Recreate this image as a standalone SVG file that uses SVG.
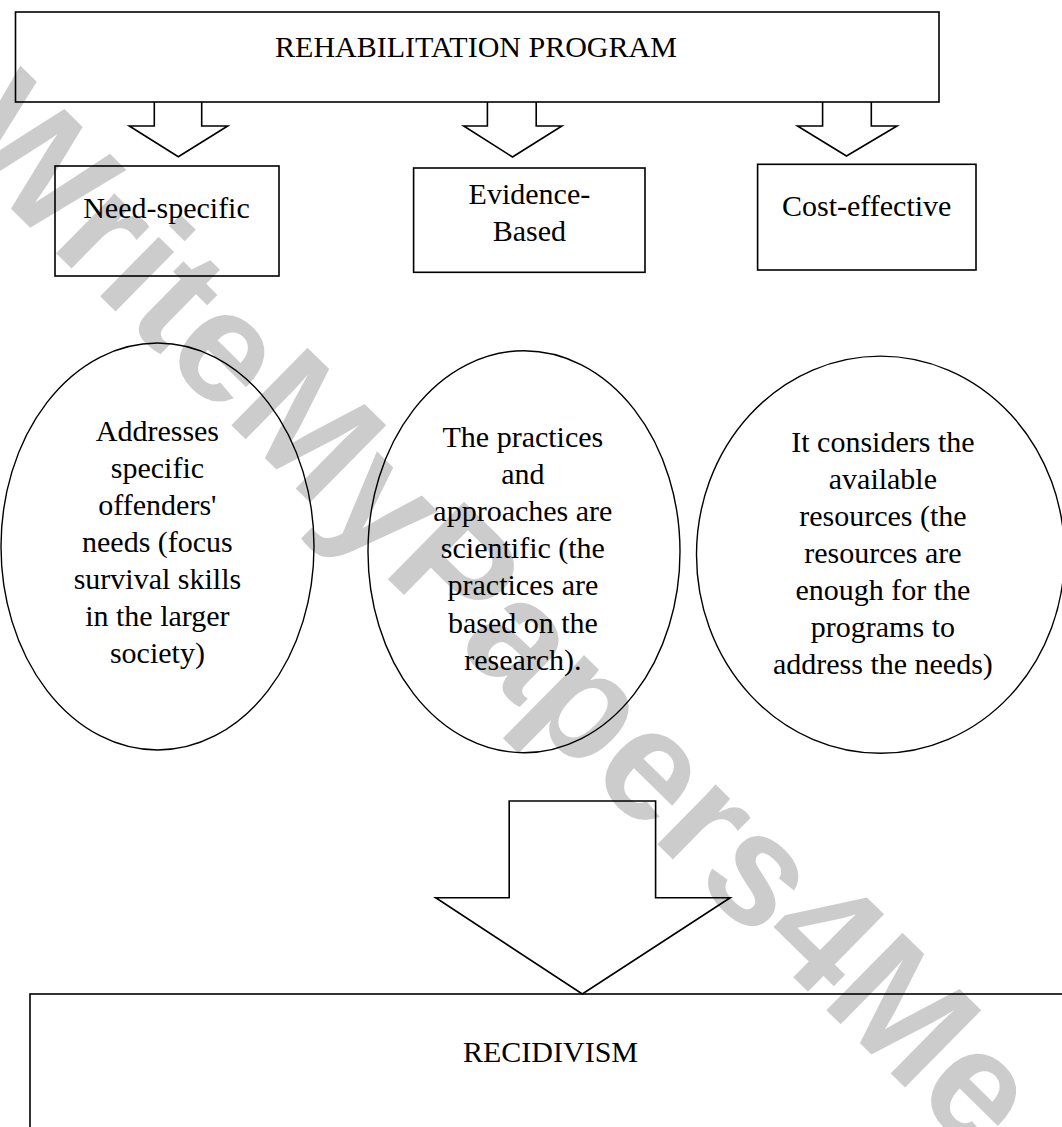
<svg xmlns="http://www.w3.org/2000/svg" width="1062" height="1127" viewBox="0 0 1062 1127">
  <style>
    .shape { fill: none; stroke: #000; stroke-width: 1.6; }
    .oval { fill: none; stroke: #000; stroke-width: 1.4; }
    .lbl { font-family: "Liberation Serif", "Times New Roman", serif; font-size: 30px; fill: #000; text-anchor: middle; }
    .wm { font-family: "Liberation Sans", Arial, sans-serif; font-weight: bold; font-size: 158px; fill: #000; fill-opacity: 0.2; }
  </style>
  <rect width="1062" height="1127" fill="#fff"/>

  <g id="node-rehab">
    <rect class="shape" x="15.5" y="12" width="923.5" height="90"/>
    <text class="lbl" x="476" y="57">REHABILITATION PROGRAM</text>
  </g>

  <g id="node-need">
    <rect class="shape" x="55" y="166" width="224" height="110"/>
    <text class="lbl" x="166.5" y="218">Need-specific</text>
  </g>
  <g id="node-evidence">
    <rect class="shape" x="413.6" y="168" width="231.4" height="104.3"/>
    <text class="lbl" x="529.4" y="204">Evidence-</text>
    <text class="lbl" x="529.4" y="240.7">Based</text>
  </g>
  <g id="node-cost">
    <rect class="shape" x="757.6" y="164.3" width="218.4" height="105.7"/>
    <text class="lbl" x="866.7" y="216">Cost-effective</text>
  </g>

  <g id="node-oval1">
    <ellipse class="oval" cx="157.5" cy="546.5" rx="156.5" ry="203.5"/>
    <text class="lbl" x="157.4" y="440.5">Addresses</text>
    <text class="lbl" x="157.4" y="477.5">specific</text>
    <text class="lbl" x="157.4" y="514.5">offenders'</text>
    <text class="lbl" x="157.4" y="551.5">needs (focus</text>
    <text class="lbl" x="157.4" y="588.5">survival skills</text>
    <text class="lbl" x="157.4" y="625.5">in the larger</text>
    <text class="lbl" x="157.4" y="662.5">society)</text>
  </g>
  <g id="node-oval2">
    <ellipse class="oval" cx="524" cy="551.7" rx="156" ry="201"/>
    <text class="lbl" x="522.9" y="446.5">The practices</text>
    <text class="lbl" x="522.9" y="483.7">and</text>
    <text class="lbl" x="522.9" y="520.9">approaches are</text>
    <text class="lbl" x="522.9" y="558.1">scientific (the</text>
    <text class="lbl" x="522.9" y="595.3">practices are</text>
    <text class="lbl" x="522.9" y="632.5">based on the</text>
    <text class="lbl" x="522.9" y="669.7">research).</text>
  </g>
  <g id="node-oval3">
    <ellipse class="oval" cx="880.5" cy="554.7" rx="184" ry="198.6"/>
    <text class="lbl" x="882.9" y="451.5">It considers the</text>
    <text class="lbl" x="882.9" y="488.5">available</text>
    <text class="lbl" x="882.9" y="525.5">resources (the</text>
    <text class="lbl" x="882.9" y="562.5">resources are</text>
    <text class="lbl" x="882.9" y="599.5">enough for the</text>
    <text class="lbl" x="882.9" y="636.5">programs to</text>
    <text class="lbl" x="882.9" y="673.5">address the needs)</text>
  </g>

  <g id="node-recidivism">
    <rect class="shape" x="30" y="994" width="1060" height="200"/>
    <text class="lbl" x="550.5" y="1061.7">RECIDIVISM</text>
  </g>

  <g id="connectors">
    <polyline class="shape" points="154.3,102 154.3,126 129.3,126 178.3,156.7 227.7,126 201.7,126 201.7,102"/>
    <polyline class="shape" points="487.4,102 487.4,126 463.7,126 512.5,157 561.9,126 536.2,126 536.2,102"/>
    <polyline class="shape" points="822.6,102 822.6,126 797.5,126 846.5,156 897,126 871.3,126 871.3,102"/>
    <polygon class="shape" points="509.2,801 655.6,801 655.6,897.7 730.2,897.7 582.3,994 435.7,897.7 509.2,897.7"/>
  </g>

  <g id="watermark">
    <text class="wm" transform="translate(-56,143) rotate(44.5)" x="0" y="0">WriteMyPapers4Me</text>
  </g>
</svg>
